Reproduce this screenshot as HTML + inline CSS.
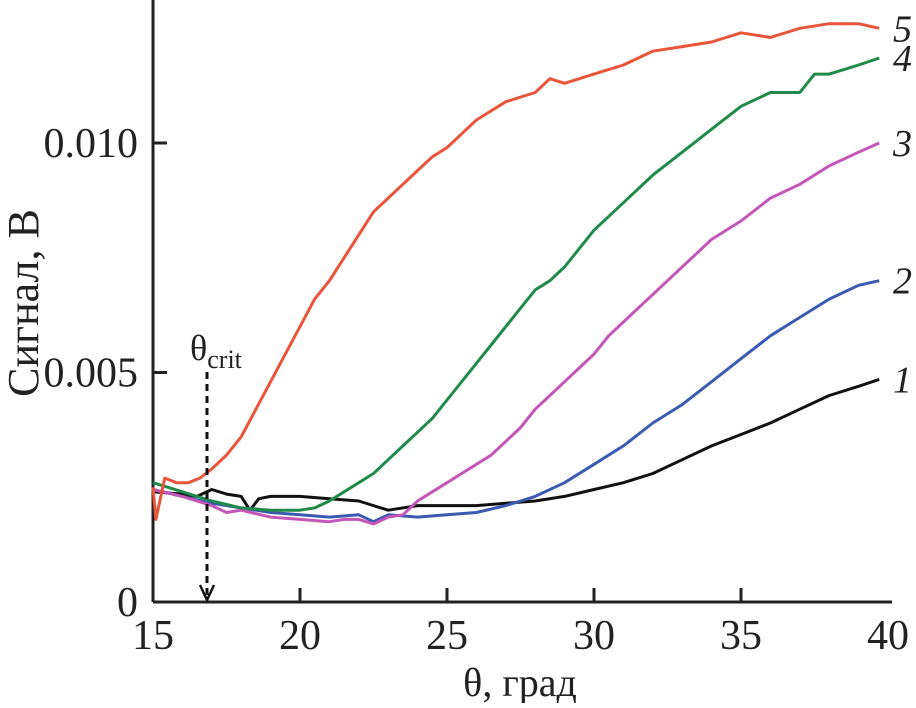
<!DOCTYPE html>
<html><head><meta charset="utf-8"><style>
body{margin:0;background:#fff}
svg text{font-family:"Liberation Serif",serif;fill:#222}
</style></head><body>
<svg id="chart" width="916" height="703" viewBox="0 0 916 703" xmlns="http://www.w3.org/2000/svg">
<g id="axes"></g>
<g id="series"></g>
<text transform="translate(38,303) rotate(-90)" text-anchor="middle" font-size="44">Сигнал, В</text>
<text x="520" y="696" text-anchor="middle" font-size="40">θ, град</text>
<text x="190" y="360" font-size="36">θ<tspan font-size="26" dy="8">crit</tspan></text>
<line x1="207" y1="372" x2="207" y2="598" stroke="#111" stroke-width="3" stroke-dasharray="7,5"/>
<polyline points="200,585 207,600 214,585" fill="none" stroke="#111" stroke-width="2.5"/>
</svg>
<script>
const xTicks=[15,20,25,30,35,40];
const yTicks=[0,0.005,0.010];
const yTickLabels=["0","0.005","0.010"];
const curveLabels=["1","2","3","4","5"];
const colors=["#111111","#3a5bb0","#c456b8","#1f8a4a","#e8553a"];
const x1=[15,16,16.5,17,17.5,18,18.3,18.6,19,20,21,22,23,24,25,26,27,28,29,30,31,32,33,34,35,36,37,38,39,39.7];
const y1=[2.4,2.35,2.3,2.45,2.35,2.3,2.0,2.25,2.3,2.3,2.25,2.2,2.0,2.1,2.1,2.1,2.15,2.2,2.3,2.45,2.6,2.8,3.1,3.4,3.65,3.9,4.2,4.5,4.7,4.85];
const x2=[15,16,17,18,19,20,21,22,22.5,23,24,25,26,27,28,29,30,31,32,33,34,35,36,37,38,39,39.7];
const y2=[2.45,2.3,2.15,2.05,1.95,1.9,1.85,1.9,1.75,1.9,1.85,1.9,1.95,2.1,2.3,2.6,3.0,3.4,3.9,4.3,4.8,5.3,5.8,6.2,6.6,6.9,7.0];
const x3=[15,16,17,17.5,18,19,20,21,21.5,22,22.5,23,23.5,24,24.5,25,25.5,26,26.5,27,27.5,28,28.5,29,29.5,30,30.5,31,31.5,32,32.5,33,33.5,34,35,36,37,38,39,39.7];
const y3=[2.45,2.3,2.1,1.95,2.0,1.85,1.8,1.75,1.8,1.8,1.7,1.85,1.9,2.2,2.4,2.6,2.8,3.0,3.2,3.5,3.8,4.2,4.5,4.8,5.1,5.4,5.8,6.1,6.4,6.7,7.0,7.3,7.6,7.9,8.3,8.8,9.1,9.5,9.8,10.0];
const x4=[15,16,17,18,19,20,20.5,21,21.5,22,22.5,23,23.5,24,24.5,25,25.5,26,26.5,27,27.5,28,28.5,29,29.5,30,31,32,33,34,35,36,37,37.5,38,38.5,39,39.7];
const y4=[2.6,2.4,2.2,2.05,2.0,2.0,2.05,2.2,2.4,2.6,2.8,3.1,3.4,3.7,4.0,4.4,4.8,5.2,5.6,6.0,6.4,6.8,7.0,7.3,7.7,8.1,8.7,9.3,9.8,10.3,10.8,11.1,11.1,11.5,11.5,11.6,11.7,11.85];
const x5=[15,15.1,15.4,15.8,16.2,16.6,17,17.5,18,18.5,19,19.5,20,20.5,21,21.5,22,22.5,23,23.5,24,24.5,25,25.5,26,26.5,27,28,28.5,29,30,31,32,33,34,35,36,37,38,39,39.7];
const y5=[2.5,1.8,2.7,2.6,2.6,2.7,2.9,3.2,3.6,4.2,4.8,5.4,6.0,6.6,7.0,7.5,8.0,8.5,8.8,9.1,9.4,9.7,9.9,10.2,10.5,10.7,10.9,11.1,11.4,11.3,11.5,11.7,12.0,12.1,12.2,12.4,12.3,12.5,12.6,12.6,12.5];
const X=v=>153+(v-15)*29.4;
const Y=v=>602-v*45900;
const NS="http://www.w3.org/2000/svg";
const ax=document.getElementById('axes');
function mk(t,a,p){const e=document.createElementNS(NS,t);for(const k in a)e.setAttribute(k,a[k]);p.appendChild(e);return e;}
let e=mk('line',{x1:153,y1:0,x2:153,y2:602,stroke:'#222','stroke-width':3},ax);


e=mk('line',{x1:153,y1:602,x2:892,y2:602,stroke:'#222','stroke-width':3},ax);


xTicks.forEach(t=>{
 if(t>15&&t<40){const l=mk('line',{x1:X(t),y1:602,x2:X(t),y2:588,stroke:'#222','stroke-width':3},ax);
 
 }
 const tx=mk('text',{x:X(t),y:649,'text-anchor':'middle','font-size':42},ax);tx.textContent=t;
 
 
});
yTicks.forEach((t,i)=>{
 if(t>0){const l=mk('line',{x1:153,y1:Y(t),x2:167,y2:Y(t),stroke:'#222','stroke-width':3},ax);
 
 }
 const tx=mk('text',{x:138,y:Y(t)+14,'text-anchor':'end','font-size':42},ax);tx.textContent=yTickLabels[i];
 
 
});
const sg=document.getElementById('series');
const xs=[x1,x2,x3,x4,x5],ys=[y1,y2,y3,y4,y5];
xs.forEach((xa,i)=>{
 const pts=xa.map((x,j)=>X(x).toFixed(1)+','+Y(ys[i][j]/1000).toFixed(1)).join(' ');
 const p=mk('polyline',{points:pts,fill:'none',stroke:colors[i],'stroke-width':3,'stroke-linejoin':'round'},sg);
 
 
 const last=ys[i][ys[i].length-1]/1000;
 const tx=mk('text',{x:893,y:Y(last)+13,'font-size':38,'font-style':'italic'},sg);tx.textContent=curveLabels[i];
 
 
});
</script>
</body></html>
